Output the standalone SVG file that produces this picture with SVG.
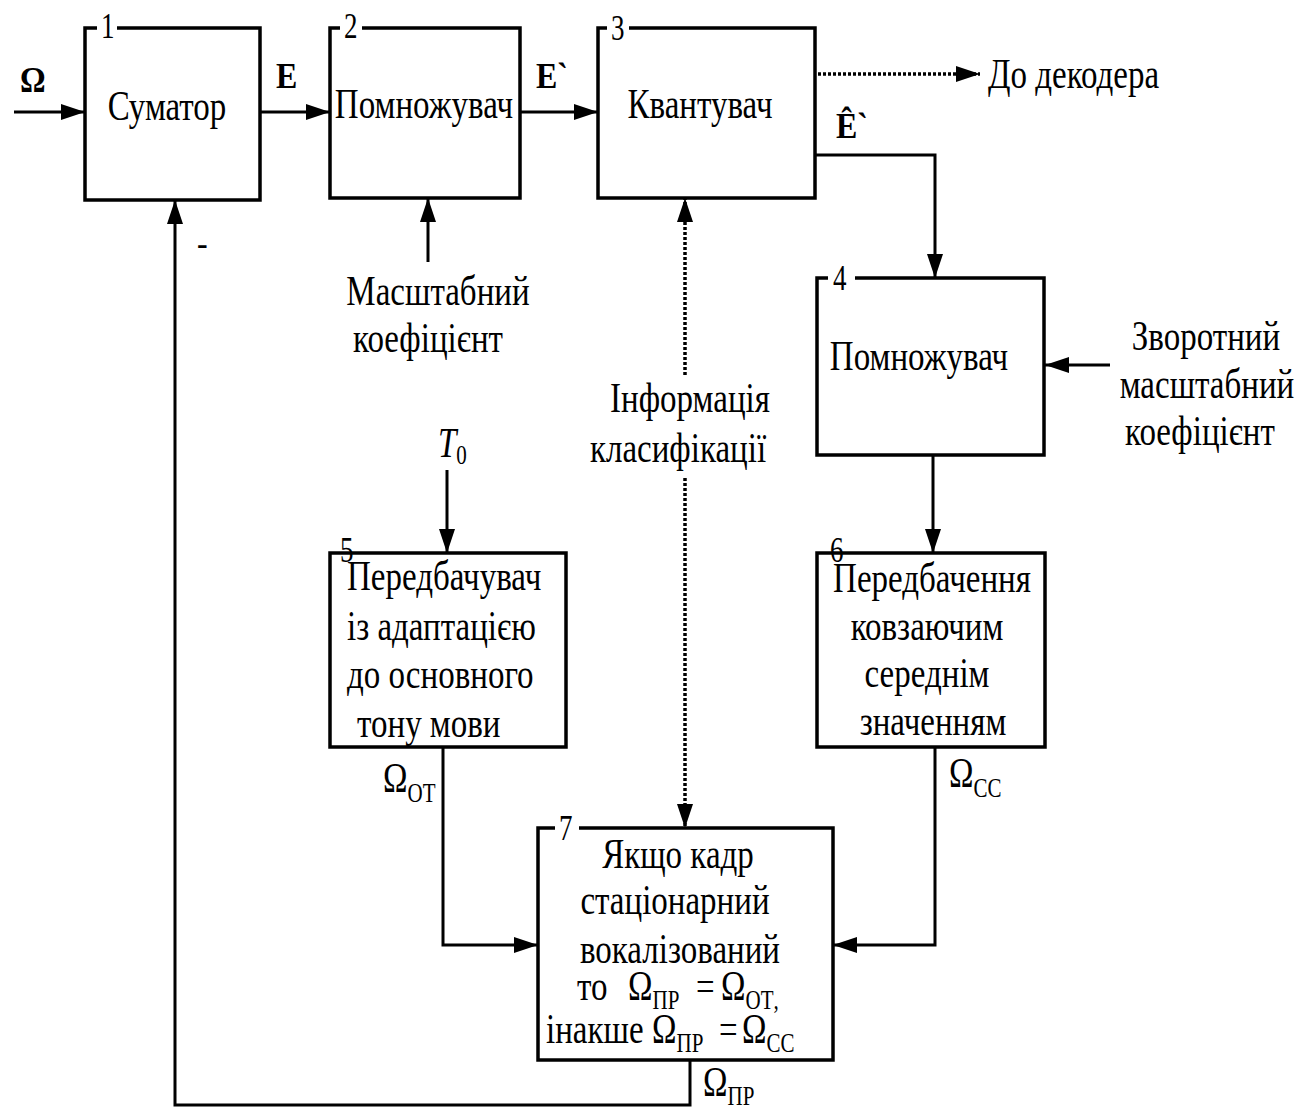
<svg xmlns="http://www.w3.org/2000/svg" width="1316" height="1115" viewBox="0 0 1316 1115">
<defs>
<marker id="ah" viewBox="0 0 24 16" refX="24" refY="8" markerUnits="userSpaceOnUse" markerWidth="24" markerHeight="16" orient="auto"><path d="M0,0 L24,8 L0,16 z" fill="#000"/></marker>
<style>
.box{fill:#fff;stroke:#000;stroke-width:3.5}
.ln{fill:none;stroke:#000;stroke-width:3}
.dot{stroke-dasharray:3 2;stroke-width:3.5}
.t{font-family:"Liberation Serif","Times New Roman",serif;font-size:33px;fill:#000}
.n{font-size:27px}
.b{font-weight:bold;font-size:32px}
.s{font-size:21px}
.gap{fill:#fff}
</style>
</defs>
<rect width="1316" height="1115" fill="#fff"/>
<g id="connectors">
<path class="ln" d="M14,112 H85" marker-end="url(#ah)"/>
<path class="ln" d="M260,112 H330" marker-end="url(#ah)"/>
<path class="ln" d="M520,112 H598" marker-end="url(#ah)"/>
<path class="ln dot" d="M818,74 H980" marker-end="url(#ah)"/>
<path class="ln" d="M815,155 H935 V278" marker-end="url(#ah)"/>
<path class="ln" d="M933,455 V553" marker-end="url(#ah)"/>
<path class="ln" d="M935,747 V945 H833" marker-end="url(#ah)"/>
<path class="ln" d="M443,747 V945 H538" marker-end="url(#ah)"/>
<path class="ln" d="M690,1060 V1105 H175 V200" marker-end="url(#ah)"/>
<path class="ln" d="M428,262 V198" marker-end="url(#ah)"/>
<path class="ln" d="M1110,365 H1045" marker-end="url(#ah)"/>
<path class="ln" d="M447,470 V553" marker-end="url(#ah)"/>
<path class="ln dot" d="M685,375 V198" marker-end="url(#ah)"/>
<path class="ln dot" d="M685,478 V828" marker-end="url(#ah)"/>
</g>
<g id="labels">
<text class="t b" transform="translate(0,92) scale(1,1.1)" x="20" y="0">Ω</text>
<text class="t b" transform="translate(0,88) scale(1,1.15)" x="276" y="0">E</text>
<text class="t b" transform="translate(0,88) scale(1,1.15)" x="536" y="0">E`</text>
<text class="t b" transform="translate(0,138) scale(1,1.15)" x="836" y="0">Ê`</text>
<text class="t" transform="translate(0,88) scale(1,1.3)" x="988" y="0">До декодера</text>
<text class="t b" x="197" y="254">-</text>
<text class="t" text-anchor="middle" transform="translate(0,305) scale(1,1.3)" x="438" y="0">Масштабний</text>
<text class="t" text-anchor="middle" transform="translate(0,352) scale(1,1.3)" x="428" y="0">коефіцієнт</text>
<text class="t" text-anchor="middle" transform="translate(0,350) scale(1,1.3)" x="1206" y="0">Зворотний</text>
<text class="t" text-anchor="middle" transform="translate(0,398) scale(1,1.3)" x="1207" y="0">масштабний</text>
<text class="t" text-anchor="middle" transform="translate(0,445) scale(1,1.3)" x="1200" y="0">коефіцієнт</text>
<text class="t" text-anchor="middle" transform="translate(0,412) scale(1,1.3)" x="690" y="0">Інформація</text>
<text class="t" text-anchor="middle" transform="translate(0,462) scale(1,1.3)" x="678" y="0">класифікації</text>
<text class="t" transform="translate(0,457) scale(1,1.3)" x="438" y="0"><tspan font-style="italic">T</tspan><tspan class="s" dy="5">0</tspan></text>
<text class="t" transform="translate(0,792) scale(1,1.3)" x="383" y="0">Ω<tspan class="s" dy="8">OT</tspan></text>
<text class="t" transform="translate(0,787) scale(1,1.3)" x="949" y="0">Ω<tspan class="s" dy="8">CC</tspan></text>
<text class="t" transform="translate(0,1096) scale(1,1.3)" x="703" y="0">Ω<tspan class="s" dy="7">ПР</tspan></text>
</g>
<g id="node1">
<rect class="box" x="85" y="28" width="175" height="172"/>
<rect class="gap" x="97" y="20" width="20" height="14"/>
<text class="t n" transform="translate(0,38) scale(1,1.3)" x="101" y="0">1</text>
<text class="t" text-anchor="middle" transform="translate(0,120) scale(1,1.3)" x="167" y="0">Суматор</text>
</g>
<g id="node2">
<rect class="box" x="330" y="28" width="190" height="170"/>
<rect class="gap" x="340" y="20" width="22" height="14"/>
<text class="t n" transform="translate(0,38) scale(1,1.3)" x="344" y="0">2</text>
<text class="t" text-anchor="middle" transform="translate(0,118) scale(1,1.3)" x="424" y="0">Помножувач</text>
</g>
<g id="node3">
<rect class="box" x="598" y="28" width="217" height="170"/>
<rect class="gap" x="607" y="20" width="22" height="14"/>
<text class="t n" transform="translate(0,40) scale(1,1.3)" x="611" y="0">3</text>
<text class="t" text-anchor="middle" transform="translate(0,118) scale(1,1.3)" x="700" y="0">Квантувач</text>
</g>
<g id="node4">
<rect class="box" x="817" y="278" width="227" height="177"/>
<rect class="gap" x="828" y="270" width="27" height="14"/>
<text class="t n" transform="translate(0,290) scale(1,1.3)" x="833" y="0">4</text>
<text class="t" text-anchor="middle" transform="translate(0,370) scale(1,1.3)" x="919" y="0">Помножувач</text>
</g>
<g id="node5">
<rect class="box" x="330" y="553" width="236" height="194"/>
<text class="t n" transform="translate(0,562) scale(1,1.3)" x="340" y="0">5</text>
<text class="t" transform="translate(0,590) scale(1,1.3)" x="347" y="0">Передбачувач</text>
<text class="t" transform="translate(0,640) scale(1,1.3)" x="347" y="0">із адаптацією</text>
<text class="t" transform="translate(0,688) scale(1,1.3)" x="347" y="0">до основного</text>
<text class="t" transform="translate(0,737) scale(1,1.3)" x="357" y="0">тону мови</text>
</g>
<g id="node6">
<rect class="box" x="817" y="553" width="228" height="194"/>
<text class="t n" transform="translate(0,562) scale(1,1.3)" x="830" y="0">6</text>
<text class="t" text-anchor="middle" transform="translate(0,592) scale(1,1.3)" x="932" y="0">Передбачення</text>
<text class="t" text-anchor="middle" transform="translate(0,640) scale(1,1.3)" x="927" y="0">ковзаючим</text>
<text class="t" text-anchor="middle" transform="translate(0,687) scale(1,1.3)" x="927" y="0">середнім</text>
<text class="t" text-anchor="middle" transform="translate(0,735) scale(1,1.3)" x="933" y="0">значенням</text>
</g>
<g id="node7">
<rect class="box" x="538" y="828" width="295" height="232"/>
<rect class="gap" x="555" y="820" width="24" height="14"/>
<text class="t n" transform="translate(0,840) scale(1,1.3)" x="559" y="0">7</text>
<text class="t" text-anchor="middle" transform="translate(0,868) scale(1,1.3)" x="678" y="0">Якщо кадр</text>
<text class="t" text-anchor="middle" transform="translate(0,914) scale(1,1.3)" x="675" y="0">стаціонарний</text>
<text class="t" text-anchor="middle" transform="translate(0,963) scale(1,1.3)" x="680" y="0">вокалізований</text>
<text class="t" transform="translate(0,1000) scale(1,1.3)" y="0"><tspan x="577">то</tspan><tspan x="628">Ω</tspan><tspan class="s" dy="7">ПР</tspan><tspan x="696" dy="-7">=</tspan><tspan x="721">Ω</tspan><tspan class="s" dy="7">OT</tspan><tspan class="s">,</tspan></text>
<text class="t" transform="translate(0,1043) scale(1,1.3)" y="0"><tspan x="546">інакше</tspan><tspan x="652">Ω</tspan><tspan class="s" dy="7">ПР</tspan><tspan x="719" dy="-7">=</tspan><tspan x="742">Ω</tspan><tspan class="s" dy="7">CC</tspan></text>
</g>
</svg>
